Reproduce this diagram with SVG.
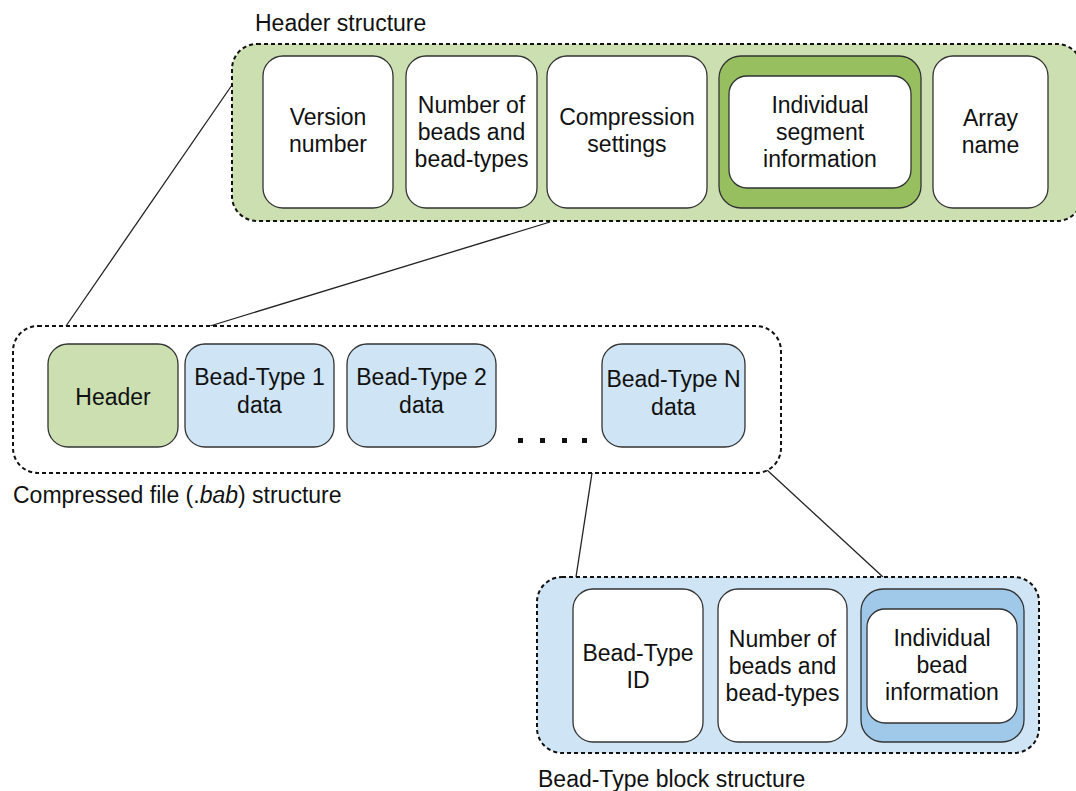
<svg xmlns="http://www.w3.org/2000/svg" width="1076" height="791" viewBox="0 0 1076 791">
  <style>
    .frame { stroke: #111; stroke-width: 2; stroke-dasharray: 4 3; }
    .box { stroke: #333; stroke-width: 1.3; }
    .white { fill: #ffffff; }
    .green { fill: #cbdfb1; }
    .green-dark { fill: #97bf5f; }
    .blue { fill: #cfe4f4; }
    .blue-dark { fill: #9fc8e9; }
    .link { stroke: #222; stroke-width: 1.3; fill: none; }
    text { font-family: "Liberation Sans", Arial, sans-serif; font-size: 23px; fill: #111; }
    .c { text-anchor: middle; }
  </style>

  <rect width="1076" height="791" fill="#ffffff"/>

  <!-- connectors between structures -->
  <g id="connectors">
    <line class="link" x1="232" y1="85" x2="66" y2="326"/>
    <line class="link" x1="550" y1="222" x2="210" y2="326"/>
    <line class="link" x1="592" y1="473" x2="576" y2="577"/>
    <line class="link" x1="767" y1="470" x2="883" y2="577"/>
  </g>

  <!-- header structure -->
  <g id="header-structure">
    <text x="255" y="31">Header structure</text>
    <rect class="frame green" x="232" y="44" width="850" height="177" rx="25"/>
  </g>
  <g id="version-number">
    <rect class="box white" x="263" y="56" width="130" height="152" rx="20"/>
    <text class="c" x="328" y="125">Version</text>
    <text class="c" x="328" y="152">number</text>
  </g>
  <g id="header-bead-counts">
    <rect class="box white" x="406" y="56" width="131" height="152" rx="20"/>
    <text class="c" x="471.5" y="113">Number of</text>
    <text class="c" x="471.5" y="140">beads and</text>
    <text class="c" x="471.5" y="167">bead-types</text>
  </g>
  <g id="compression-settings">
    <rect class="box white" x="547" y="56" width="160" height="152" rx="20"/>
    <text class="c" x="627" y="125">Compression</text>
    <text class="c" x="627" y="152">settings</text>
  </g>
  <g id="segment-information">
    <rect class="box green-dark" x="719" y="56" width="202" height="152" rx="22"/>
    <rect class="box white" x="729" y="76" width="182" height="112" rx="18"/>
    <text class="c" x="820" y="113">Individual</text>
    <text class="c" x="820" y="140">segment</text>
    <text class="c" x="820" y="167">information</text>
  </g>
  <g id="array-name">
    <rect class="box white" x="933" y="56" width="115" height="152" rx="20"/>
    <text class="c" x="990.5" y="126">Array</text>
    <text class="c" x="990.5" y="153">name</text>
  </g>

  <!-- compressed file structure -->
  <g id="compressed-file">
    <rect class="frame" x="13" y="326" width="768" height="147" rx="25" fill="#ffffff"/>
    <text x="13" y="503">Compressed file (.<tspan font-style="italic">bab</tspan>) structure</text>
  </g>
  <g id="header">
    <rect class="box green" x="48" y="344" width="130" height="103" rx="20"/>
    <text class="c" x="113" y="405">Header</text>
  </g>
  <g id="bead-type-1">
    <rect class="box blue" x="185" y="344" width="149" height="103" rx="20"/>
    <text class="c" x="259.5" y="385">Bead-Type 1</text>
    <text class="c" x="259.5" y="413">data</text>
  </g>
  <g id="bead-type-2">
    <rect class="box blue" x="347" y="344" width="149" height="103" rx="20"/>
    <text class="c" x="421.5" y="385">Bead-Type 2</text>
    <text class="c" x="421.5" y="413">data</text>
  </g>
  <g id="ellipsis" fill="#111">
    <rect x="518" y="438" width="5" height="5"/>
    <rect x="540" y="438" width="5" height="5"/>
    <rect x="562" y="438" width="5" height="5"/>
    <rect x="582" y="438" width="5" height="5"/>
  </g>
  <g id="bead-type-n">
    <rect class="box blue" x="602" y="344" width="143" height="103" rx="20"/>
    <text class="c" x="673.5" y="387">Bead-Type N</text>
    <text class="c" x="673.5" y="415">data</text>
  </g>

  <!-- bead-type block structure -->
  <g id="bead-type-block">
    <rect class="frame blue" x="537" y="577" width="502" height="176" rx="25"/>
    <text x="538" y="787">Bead-Type block structure</text>
  </g>
  <g id="bead-type-id">
    <rect class="box white" x="573" y="589" width="130" height="153" rx="20"/>
    <text class="c" x="638" y="661">Bead-Type</text>
    <text class="c" x="638" y="688">ID</text>
  </g>
  <g id="block-bead-counts">
    <rect class="box white" x="718" y="589" width="129" height="153" rx="20"/>
    <text class="c" x="782.5" y="647">Number of</text>
    <text class="c" x="782.5" y="674">beads and</text>
    <text class="c" x="782.5" y="701">bead-types</text>
  </g>
  <g id="bead-information">
    <rect class="box blue-dark" x="861" y="589" width="163" height="153" rx="22"/>
    <rect class="box white" x="867" y="609" width="150" height="114" rx="18"/>
    <text class="c" x="942" y="646">Individual</text>
    <text class="c" x="942" y="673">bead</text>
    <text class="c" x="942" y="700">information</text>
  </g>
</svg>
